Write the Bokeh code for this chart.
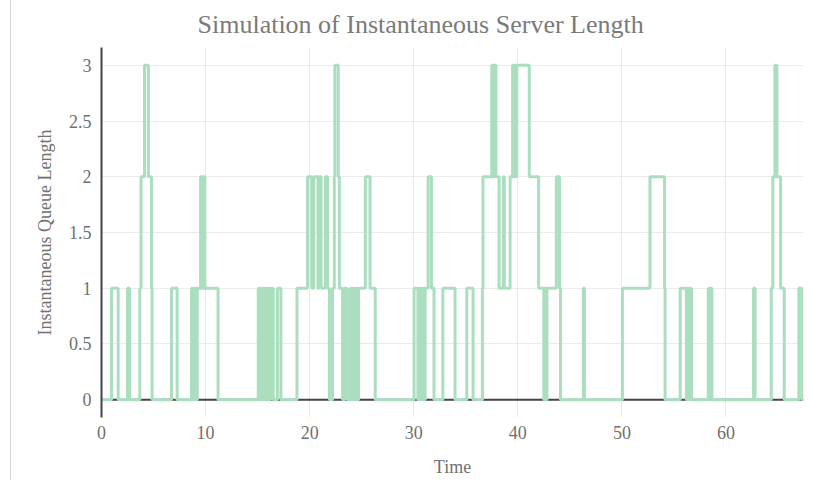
from bokeh.plotting import figure
from bokeh.models import Span, FixedTicker, NumeralTickFormatter, Range1d
from bokeh.embed import file_html
from bokeh.resources import INLINE

# Step events: time at which the queue length changes, and the new length
times = [0.0, 0.96, 1.6, 2.5, 2.7, 3.68, 3.8, 4.13, 4.5, 4.8, 4.86,
         6.73, 7.27,
         8.65, 8.75, 8.85, 8.95, 9.05, 9.12, 9.2,
         9.52, 9.6, 9.68, 9.78, 9.85, 9.93, 11.2,
         15.06, 15.2, 15.35, 15.5, 15.6, 15.75, 15.85, 15.95, 16.05, 16.15, 16.25, 16.5,
         16.9, 17.24,
         18.78, 19.8, 20.2, 20.4, 20.8, 20.9, 21.1, 21.5, 21.73, 21.9,
         22.2, 22.37, 22.42, 22.75, 22.85, 23.17, 23.33, 23.6,
         23.9, 24.0, 24.1, 24.2, 24.3, 24.4, 24.5, 24.6, 24.7,
         25.35, 25.8, 26.3,
         30.03, 30.4, 30.5, 30.6, 30.7, 30.8, 30.9, 31.0, 31.1, 31.38, 31.7, 31.95,
         32.8, 33.97,
         35.1, 35.7,
         36.6, 36.65, 37.5, 37.6, 37.7, 37.9, 38.2, 38.6, 38.7, 39.26, 39.5, 39.6,
         39.7, 39.8, 39.9, 41.1, 42.0, 42.5, 42.6, 42.7, 42.8, 43.7, 44.0, 44.1,
         46.3, 46.4,
         50.05, 52.7, 54.1, 54.15,
         55.6, 56.2, 56.3, 56.45, 56.55, 56.7,
         58.3, 58.4, 58.5, 58.65,
         62.65, 62.8,
         64.35, 64.5, 64.7, 64.9, 65.25, 65.6,
         67.0, 67.3, 67.45]
queue_len = [0, 1, 0, 1, 0, 1, 2, 3, 2, 1, 0,
             1, 0,
             1, 0, 1, 0, 1, 0, 1,
             2, 1, 2, 1, 2, 1, 0,
             1, 0, 1, 0, 1, 0, 1, 0, 1, 0, 1, 0,
             1, 0,
             1, 2, 1, 2, 1, 2, 1, 2, 1, 0,
             1, 2, 3, 2, 1, 0, 1, 0,
             1, 0, 1, 0, 1, 0, 1, 0, 1,
             2, 1, 0,
             1, 0, 1, 0, 1, 0, 1, 0, 1, 2, 1, 0,
             1, 0,
             1, 0,
             1, 2, 3, 2, 3, 2, 1, 2, 1, 2, 3, 2,
             3, 2, 3, 2, 1, 0, 1, 0, 1, 2, 1, 0,
             1, 0,
             1, 2, 1, 0,
             1, 0, 1, 0, 1, 0,
             1, 0, 1, 0,
             1, 0,
             1, 2, 3, 2, 1, 0,
             1, 0, 0]

x_ticks = [0, 10, 20, 30, 40, 50, 60]
y_ticks = [0, 0.5, 1, 1.5, 2, 2.5, 3]

FONT = "Liberation Serif"

p = figure(width=797, height=480, output_backend="svg", toolbar_location=None,
           x_range=Range1d(0, 67.45), y_range=Range1d(-0.16, 3.16),
           title="Simulation of Instantaneous Server Length",
           min_border_left=90, min_border_right=5, min_border_top=47, min_border_bottom=63)

p.title.align = "left"
p.title.offset = 96
p.title.standoff = 14
p.title.vertical_align = "top"
p.title.text_font = FONT
p.title.text_font_size = "26px"
p.title.text_font_style = "normal"
p.title.text_color = "#7a7a7a"
p.outline_line_color = None

p.grid.grid_line_color = "#ebebeb"
p.grid.grid_line_width = 1
p.xaxis.ticker = FixedTicker(ticks=x_ticks)
p.yaxis.ticker = FixedTicker(ticks=y_ticks)
p.xaxis.formatter = NumeralTickFormatter(format="0")
p.yaxis.formatter = NumeralTickFormatter(format="0.[0]")

for ax in (p.xaxis[0], p.yaxis[0]):
    ax.major_tick_line_color = None
    ax.minor_tick_line_color = None
    ax.major_label_text_font = FONT
    ax.major_label_text_font_size = "18px"
    ax.major_label_text_color = "#707070"
    ax.axis_label_text_font = FONT
    ax.axis_label_text_font_size = "18px"
    ax.axis_label_text_font_style = "normal"
    ax.axis_label_text_color = "#707070"

p.xaxis.axis_line_color = None
p.xaxis.major_label_standoff = 2
p.xaxis.axis_label = "Time"
p.xaxis.axis_label_standoff = 15

p.yaxis.axis_line_color = "#444444"
p.yaxis.axis_line_width = 2
p.yaxis.major_label_standoff = 4
p.yaxis.axis_label = "Instantaneous Queue Length"
p.yaxis.axis_label_standoff = 11

zero = Span(location=0, dimension="width", line_color="#444444", line_width=2, level="underlay")
p.add_layout(zero)

p.step(times, queue_len, mode="after", line_color="#abdebf", line_width=3)

p.styles = {"margin-left": "10px", "border-left": "1px solid #d6d6d6"}

open("out.html", "w").write(file_html(p, INLINE))
